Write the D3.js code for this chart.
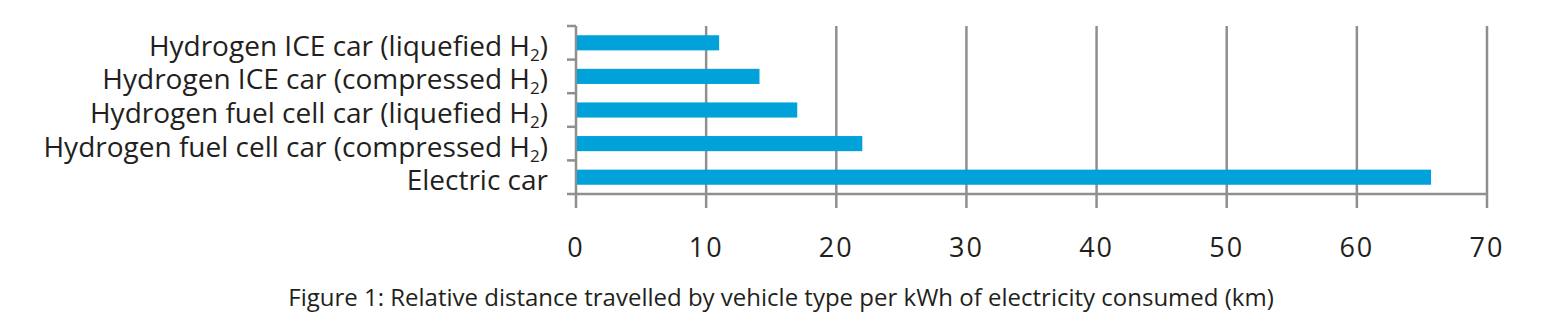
<!DOCTYPE html>
<html>
<head>
<meta charset="utf-8">
<script src="https://cdn.jsdelivr.net/npm/d3@7"></script>
<style>
  html, body { margin: 0; padding: 0; background: #fff; }
  svg { display: block; }
  text { font-family: "Open Sans", "Noto Sans", sans-serif; fill: #231f20; }
</style>
</head>
<body>
<svg id="chart" width="1562" height="331"></svg>
<script>
// Vehicle types, top to bottom; "_2" marks a subscript 2.
const categories = [
  "Hydrogen ICE car (liquefied H_2)",
  "Hydrogen ICE car (compressed H_2)",
  "Hydrogen fuel cell car (liquefied H_2)",
  "Hydrogen fuel cell car (compressed H_2)",
  "Electric car"
];
// km travelled per kWh of electricity consumed
const distances = [11.0, 14.1, 17.0, 22.0, 65.7];
const xTicks = [0, 10, 20, 30, 40, 50, 60, 70];
const title = "Figure 1: Relative distance travelled by vehicle type per kWh of electricity consumed (km)";

const svg = d3.select("#chart");
const plot = { left: 576, right: 1487, top: 26, bottom: 194 };
const gridColor = "#8f8f8f";
const barColor = "#00a2d9";

const x = d3.scaleLinear().domain([0, 70]).range([plot.left, plot.right]);
const y = d3.scaleBand()
  .domain(categories)
  .range([plot.top, plot.bottom])
  .paddingInner(0.55)
  .paddingOuter(0.275);

// vertical gridlines, running below the axis line as tick marks
svg.append("g")
  .selectAll("line")
  .data(xTicks)
  .join("line")
  .attr("x1", d => x(d)).attr("x2", d => x(d))
  .attr("y1", plot.top).attr("y2", plot.bottom + 14)
  .attr("stroke", gridColor)
  .attr("stroke-width", 2.5);

// horizontal axis line
svg.append("line")
  .attr("x1", plot.left).attr("x2", plot.right)
  .attr("y1", plot.bottom).attr("y2", plot.bottom)
  .attr("stroke", gridColor)
  .attr("stroke-width", 2.5);

// category boundary ticks on the left of the value axis
const step = y.step();
const boundaries = d3.range(categories.length + 1).map(i => plot.top + i * step);
svg.append("g")
  .selectAll("line")
  .data(boundaries)
  .join("line")
  .attr("x1", plot.left - 9).attr("x2", plot.left)
  .attr("y1", d => d).attr("y2", d => d)
  .attr("stroke", gridColor)
  .attr("stroke-width", 2.5);

// bars
svg.append("g")
  .selectAll("rect")
  .data(categories)
  .join("rect")
  .attr("x", x(0) + 1)
  .attr("y", d => y(d))
  .attr("width", (d, i) => x(distances[i]) - x(0) - 1)
  .attr("height", y.bandwidth())
  .attr("fill", barColor);

// category labels with subscript support
const labels = svg.append("g")
  .selectAll("text")
  .data(categories)
  .join("text")
  .attr("x", plot.left - 28)
  .attr("y", d => y(d) + y.bandwidth() / 2 + 13)
  .attr("text-anchor", "end")
  .style("font-size", "28px");

labels.each(function (d) {
  const t = d3.select(this);
  const parts = d.split("_2");
  if (parts.length === 1) {
    t.text(d);
    return;
  }
  t.append("tspan").text(parts[0]);
  t.append("tspan").text("2").attr("dy", 5).style("font-size", "17px");
  t.append("tspan").text(parts[1]).attr("dy", -5);
});

// tick labels
svg.append("g")
  .selectAll("text")
  .data(xTicks)
  .join("text")
  .attr("x", d => x(d))
  .attr("y", 257)
  .attr("text-anchor", "middle")
  .style("font-size", "27px")
  .style("letter-spacing", "2px")
  .text(d => d);

// caption
svg.append("text")
  .attr("x", 781)
  .attr("y", 306)
  .attr("text-anchor", "middle")
  .style("font-size", "24px")
  .text(title);
</script>
</body>
</html>
